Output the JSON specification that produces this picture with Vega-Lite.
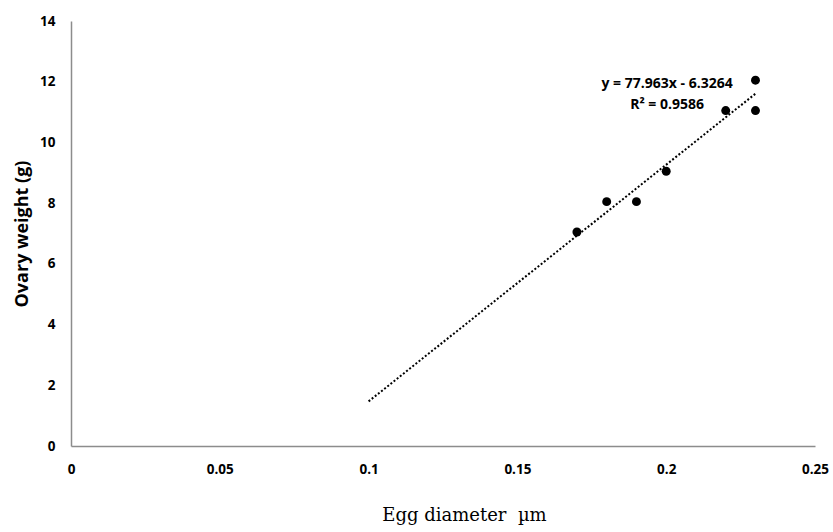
{
  "$schema": "https://vega.github.io/schema/vega-lite/v6.json",
  "width": 744,
  "height": 425,
  "autosize": {"type": "none"},
  "padding": {"left": 71, "top": 21, "right": 18, "bottom": 86},
  "background": "white",
  "config": {
    "view": {"stroke": null},
    "axis": {
      "grid": false,
      "ticks": false,
      "domainColor": "#8c8c8c",
      "domainWidth": 1.5,
      "labelFont": "Open Sans",
      "labelFontWeight": "bold",
      "labelFontSize": 13.5,
      "labelColor": "#000000",
      "titleColor": "#000000"
    }
  },
  "layer": [
    {
      "data": {"values": [
        {"diameter": 0.1, "weight": 1.47},
        {"diameter": 0.23, "weight": 11.605}
      ]},
      "mark": {"type": "line", "color": "#000000", "strokeWidth": 2, "strokeDash": [2, 2]},
      "encoding": {
        "x": {"field": "diameter", "type": "quantitative"},
        "y": {"field": "weight", "type": "quantitative"}
      }
    },
    {
      "data": {"values": [
        {"diameter": 0.17, "weight": 7.05},
        {"diameter": 0.18, "weight": 8.05},
        {"diameter": 0.19, "weight": 8.05},
        {"diameter": 0.2, "weight": 9.05},
        {"diameter": 0.22, "weight": 11.05},
        {"diameter": 0.23, "weight": 12.05},
        {"diameter": 0.23, "weight": 11.05}
      ]},
      "mark": {"type": "circle", "color": "#000000", "opacity": 1, "size": 80},
      "encoding": {
        "x": {
          "field": "diameter", "type": "quantitative",
          "scale": {"domain": [0, 0.25], "nice": false, "zero": false},
          "axis": {
            "values": [0, 0.05, 0.1, 0.15, 0.2, 0.25],
            "labelExpr": "datum.value == 0 ? '0' : format(datum.value, '.2~f')",
            "labelPadding": 16,
            "labelFlush": false,
            "title": "Egg diameter \u00a0µm",
            "titleFont": "DejaVu Serif",
            "titleFontSize": 18,
            "titleFontWeight": "normal",
            "titleX": 393,
            "titleAlign": "center",
            "titlePadding": 31
          }
        },
        "y": {
          "field": "weight", "type": "quantitative",
          "scale": {"domain": [0, 14], "nice": false},
          "axis": {
            "values": [0, 2, 4, 6, 8, 10, 12, 14],
            "labelPadding": 16,
            "title": "Ovary weight (g)",
            "titleFont": "Open Sans",
            "titleFontSize": 18,
            "titleFontWeight": "bold",
            "titlePadding": 8
          }
        }
      }
    },
    {
      "data": {"values": [
        {"diameter": 0.2003, "weight": 11.92, "label": "y = 77.963x - 6.3264"},
        {"diameter": 0.2003, "weight": 11.23, "label": "R² = 0.9586"}
      ]},
      "mark": {"type": "text", "font": "Open Sans", "fontWeight": "bold", "fontSize": 14, "color": "#000000", "align": "center", "baseline": "middle"},
      "encoding": {
        "x": {"field": "diameter", "type": "quantitative"},
        "y": {"field": "weight", "type": "quantitative"},
        "text": {"field": "label"}
      }
    }
  ]
}
